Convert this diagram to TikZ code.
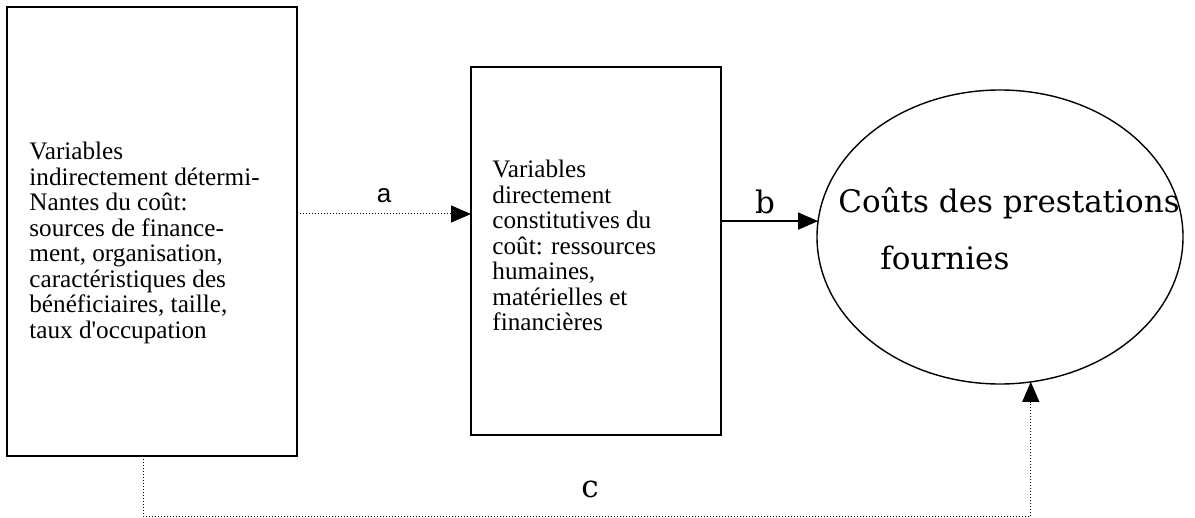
\documentclass[tikz,border=0pt]{standalone}
\usepackage{fontspec}
\setmainfont{Liberation Serif}
\newfontfamily\bookfont{DejaVu Serif}
\newfontfamily\arialfont{Liberation Sans}
\usetikzlibrary{shapes.geometric,arrows.meta,positioning,calc}

\tikzset{
	boite/.style={draw, line width=1pt, inner sep=0pt, outer sep=0pt},
	texte/.style={align=left, inner sep=0pt, font=\fontsize{12.6}{12.75}\selectfont},
	grand/.style={inner sep=0pt, font=\bookfont\fontsize{15.5}{18}\selectfont},
	pointille/.style={line width=0.5pt, dash pattern=on 0.6pt off 0.9pt},
	fleche/.style={-{Triangle[length=10pt,width=8.5pt]}}
}

\begin{document}
\begin{tikzpicture}[x=0.5pt, y=-0.5pt]
	\useasboundingbox (0,0) rectangle (1195,518);
	
	% variables indirectement determinantes
	\node[boite, minimum width=145pt, minimum height=224.5pt] (indir) at (152,231.5) {};
	\node[texte, anchor=north west] (indirtxt) at (29,142)
	{Variables\\indirectement détermi-\\Nantes du coût:\\sources de finance-\\ment, organisation,\\caractéristiques des\\bénéficiaires, taille,\\taux d\textquotesingle occupation};
	
	% variables directement constitutives
	\node[boite, minimum width=125pt, minimum height=184pt] (dir) at (596,251) {};
	\node[texte, anchor=north west] (dirtxt) at (492,160)
	{Variables\\directement\\constitutives du\\coût: ressources\\humaines,\\matérielles et\\financières};
	
	% couts des prestations
	\node[draw, ellipse, line width=0.7pt, inner sep=0pt, outer sep=0pt,
	minimum width=183pt, minimum height=147pt] (couts) at (1000,237) {};
	\node[grand, anchor=west] (coutsun) at (838,203) {Coûts des prestations};
	\node[grand, anchor=west] (coutsdeux) at (880,258) {fournies};
	
	% lien a
	\coordinate (niva) at (384,214);
	\draw[pointille, fleche] (indir.east |- niva) -- (dir.west |- niva);
	\node[font=\arialfont\fontsize{13}{15}\selectfont] (a) at (384,196) {a};
	
	% lien b
	\draw[line width=0.75pt, fleche] (dir.east |- couts.175) -- (couts.175);
	\node[grand] (b) at (765,202) {b};
	
	% lien c
	\coordinate (cbas) at (590,516);
	\draw[pointille, fleche] ([xshift=-4.5pt]indir.south) |- (cbas) -| (couts.-78);
	\node[grand] (c) at (590,489) {c};
\end{tikzpicture}
\end{document}
